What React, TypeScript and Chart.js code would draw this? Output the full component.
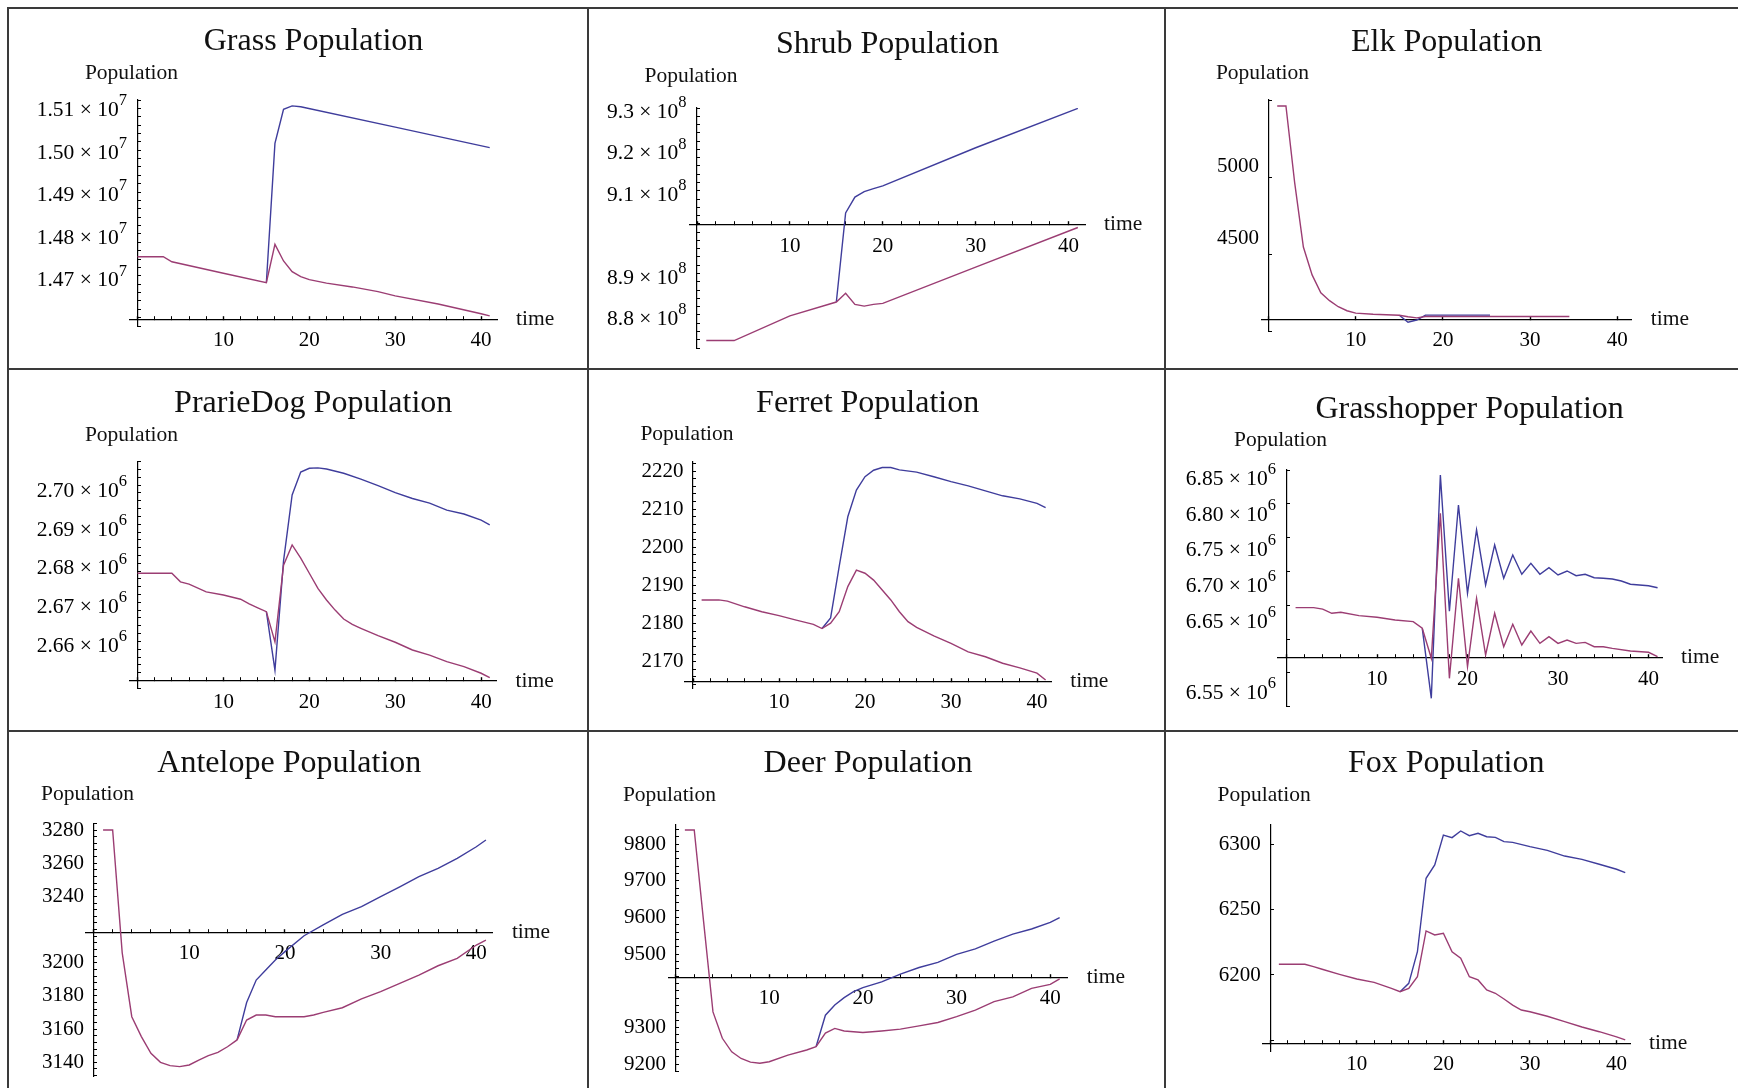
import React, { useEffect, useRef } from 'react';
import { Chart, registerables } from 'chart.js';

Chart.register(...registerables);

type Pt = [number, number];

const FONT = "'Liberation Serif', 'Times New Roman', 'DejaVu Serif', serif";
const BLUE = '#3f3d9c';
const PURPLE = '#9b3d73';

// x-axis tick labels shared by all panels
const timeTickLabels = [10, 20, 30, 40];

// ---------------- Grass ----------------
const grassPurple: Pt[] = [
  [0, 14747000], [3, 14747000], [4, 14735000], [10, 14708000], [15, 14686000], [16, 14776000],
  [17, 14737000], [18, 14712000], [19, 14700000], [20, 14693000], [21, 14689000], [22, 14685000],
  [25, 14676000], [28, 14665000], [30, 14655000], [35, 14636000], [40, 14613000], [41, 14608000],
];
const grassBlue: Pt[] = [
  [15, 14686000], [16, 15013000], [17, 15093000], [18, 15101000], [19, 15099000], [30, 15051000], [41, 15003000],
];
const grassTickLabels = [14700000, 14800000, 14900000, 15000000, 15100000];

// ---------------- Shrub ----------------
const shrubPurple: Pt[] = [
  [1, 873950000], [4, 873950000], [10, 879900000], [15, 883260000], [16, 885390000], [17, 882700000],
  [18, 882280000], [19, 882700000], [20, 882940000], [30, 891660000], [41, 901250000],
];
const shrubBlue: Pt[] = [
  [15, 883260000], [16, 904750000], [17, 908600000], [18, 909900000], [19, 910640000], [20, 911300000],
  [30, 920500000], [41, 930000000],
];
const shrubTickLabels = [880000000, 890000000, 910000000, 920000000, 930000000];

// ---------------- Elk ----------------
const elkPurple: Pt[] = [
  [1, 5425], [2, 5425], [3, 4890], [4, 4440], [5, 4245], [6, 4120], [7, 4065], [8, 4023], [9, 3995],
  [10, 3978], [12, 3970], [15, 3963], [16, 3953], [17, 3945], [18, 3955], [34.5, 3955],
];
const elkBlue: Pt[] = [[15, 3963], [16, 3915], [17, 3930], [18, 3964], [25.4, 3964]];
const elkTickLabels = [4500, 5000];

// ---------------- Prairie dog ----------------
const prairiePurple: Pt[] = [
  [0, 2677800], [4, 2677800], [5, 2675600], [6, 2675000], [8, 2673000], [10, 2672200], [12, 2671100],
  [13, 2669900], [14, 2668900], [15, 2667900], [16, 2660100], [17, 2679900], [18, 2685100], [19, 2681700],
  [20, 2677800], [21, 2673900], [22, 2670900], [23, 2668300], [24, 2666000], [25, 2664600], [26, 2663600],
  [28, 2661700], [30, 2660000], [32, 2658000], [34, 2656700], [36, 2655000], [38, 2653700], [40, 2652000],
  [41, 2650900],
];
const prairieBlue: Pt[] = [
  [15, 2667900], [16, 2652800], [17, 2681000], [18, 2698000], [19, 2703900], [20, 2704900], [21, 2705000],
  [22, 2704700], [24, 2703600], [26, 2702100], [28, 2700400], [30, 2698600], [32, 2697100], [34, 2695900],
  [36, 2694100], [38, 2693100], [40, 2691500], [41, 2690300],
];
const prairieTickLabels = [2660000, 2670000, 2680000, 2690000, 2700000];

// ---------------- Ferret ----------------
const ferretPurple: Pt[] = [
  [1, 2186.2], [3, 2186.2], [4, 2185.9], [6, 2184.4], [8, 2183.1], [10, 2182.1], [12, 2180.9], [14, 2179.8],
  [15, 2178.7], [16, 2180.1], [17, 2183.1], [18, 2189.7], [19, 2194.0], [20, 2193.2], [21, 2191.4],
  [22, 2188.8], [23, 2186.2], [24, 2183.1], [25, 2180.5], [26, 2179.0], [28, 2176.8], [30, 2174.8],
  [32, 2172.6], [34, 2171.3], [36, 2169.6], [38, 2168.4], [40, 2167.0], [41, 2165.2],
];
const ferretBlue: Pt[] = [
  [15, 2178.7], [16, 2181.5], [17, 2195.0], [18, 2208.0], [19, 2215.0], [20, 2218.5], [21, 2220.2],
  [22, 2220.9], [23, 2220.9], [24, 2220.3], [26, 2219.7], [28, 2218.5], [30, 2217.2], [32, 2216.1],
  [34, 2214.8], [36, 2213.5], [38, 2212.7], [40, 2211.5], [41, 2210.4],
];
const ferretTickLabels = [2170, 2180, 2190, 2200, 2210, 2220];

// ---------------- Grasshopper ----------------
const hopperPurple: Pt[] = [
  [1, 6670100], [3, 6670100], [4, 6668000], [5, 6662200], [6, 6663600], [8, 6658900], [10, 6656600],
  [12, 6652800], [14, 6650500], [15, 6641200], [16, 6599200], [17, 6802300], [18, 6571100], [19, 6711300],
  [20, 6587400], [21, 6683200], [22, 6603800], [23, 6662200], [24, 6615400], [25, 6646800], [26, 6617800],
  [27, 6637400], [28, 6620100], [29, 6629500], [30, 6620100], [31, 6624800], [32, 6620100], [33, 6621500],
  [34, 6615400], [35, 6615400], [36, 6613100], [38, 6609400], [40, 6607600], [41, 6601400],
];
const hopperBlue: Pt[] = [
  [15, 6641200], [16, 6543100], [17, 6856000], [18, 6665000], [19, 6814000], [20, 6690200], [21, 6779000],
  [22, 6701900], [23, 6758000], [24, 6711300], [25, 6743900], [26, 6716900], [27, 6732200], [28, 6716900],
  [29, 6726100], [30, 6715900], [31, 6721500], [32, 6714900], [33, 6716900], [34, 6712100], [35, 6711300],
  [36, 6710300], [37, 6707500], [38, 6702900], [40, 6700900], [41, 6698100],
];
const hopperTickLabels = [6550000, 6650000, 6700000, 6750000, 6800000, 6850000];

// ---------------- Antelope ----------------
const antelopePurple: Pt[] = [
  [1, 3280], [2, 3280], [3, 3206], [4, 3167.5], [5, 3155.5], [6, 3145.4], [7, 3140], [8, 3138], [9, 3137.4],
  [10, 3138.4], [11, 3141.4], [12, 3144], [13, 3146], [14, 3149.4], [15, 3153.5], [16, 3165.5], [17, 3168.5],
  [18, 3168.5], [19, 3167.5], [22, 3167.5], [23, 3168.5], [24, 3170.1], [26, 3172.9], [28, 3178.2],
  [30, 3182.6], [32, 3187.6], [34, 3192.6], [36, 3198.2], [38, 3202.7], [40, 3210.7], [41, 3213.7],
];
const antelopeBlue: Pt[] = [
  [15, 3153.5], [16, 3176], [17, 3189.6], [18, 3195.6], [19, 3201.7], [20, 3206.7], [22, 3216.3],
  [24, 3222.8], [26, 3229.2], [28, 3233.8], [30, 3239.8], [32, 3245.8], [34, 3251.9], [36, 3256.9],
  [38, 3262.9], [40, 3269.9], [41, 3274],
];
const antelopeTickLabels = [3140, 3160, 3180, 3200, 3240, 3260, 3280];

// ---------------- Deer ----------------
const deerPurple: Pt[] = [
  [1, 9839], [2, 9839], [3, 9589], [4, 9343], [5, 9271], [6, 9234], [7, 9216], [8, 9206], [9, 9203],
  [10, 9207], [12, 9225], [14, 9239], [15, 9248], [16, 9285], [17, 9298], [18, 9291], [20, 9287],
  [22, 9291], [24, 9296], [26, 9305], [28, 9314], [30, 9330], [32, 9348], [34, 9371], [36, 9384],
  [38, 9407], [40, 9418], [41, 9433],
];
const deerBlue: Pt[] = [
  [15, 9248], [16, 9334], [17, 9362], [18, 9382], [19, 9398], [20, 9409], [22, 9425], [24, 9446],
  [26, 9464], [28, 9478], [30, 9500], [32, 9515], [34, 9536], [36, 9555], [38, 9569], [40, 9587], [41, 9600],
];
const deerTickLabels = [9200, 9300, 9500, 9600, 9700, 9800];

// ---------------- Fox ----------------
const foxPurple: Pt[] = [
  [1, 6208.2], [4, 6208.2], [5, 6206.4], [6, 6204.4], [8, 6200.5], [10, 6196.9], [12, 6194.4], [14, 6189.8],
  [15, 6187.2], [16, 6189.8], [17, 6198.7], [18, 6233.7], [19, 6230.6], [20, 6231.9], [21, 6217.8],
  [22, 6212.8], [23, 6198.7], [24, 6196.2], [25, 6188.5], [26, 6186], [27, 6181.6], [28, 6177],
  [29, 6173.2], [30, 6171.9], [32, 6168.4], [34, 6164.3], [36, 6160.2], [38, 6156.6], [40, 6152.6],
  [41, 6150.3],
];
const foxBlue: Pt[] = [
  [15, 6187.2], [16, 6193.6], [17, 6217.8], [18, 6274], [19, 6284.2], [20, 6307.1], [21, 6305.1],
  [22, 6310.2], [23, 6306.6], [24, 6308.4], [25, 6305.8], [26, 6305.3], [27, 6302], [28, 6301.5],
  [30, 6298.2], [32, 6295.4], [34, 6291], [36, 6288.5], [38, 6284.7], [40, 6280.9], [41, 6278.3],
];
const foxTickLabels = [6200, 6250, 6300];

// ---------------- layout (page pixel coords) ----------------
const COLS: [number, number][] = [[9, 587], [589, 1164], [1166, 1738]];
const ROWS: [number, number][] = [[9, 368], [370, 730], [732, 1088]];

interface PanelDef {
  title: string;
  purple: Pt[];
  blue: Pt[];
  yLabels: number[];
  exp: number; // 0 = plain number labels, otherwise mantissa x 10^exp
  dec: number;
  col: number;
  row: number;
  area: [number, number, number, number];
  xRange: [number, number];
  yRange: [number, number];
  xAxisAt: number;
  yStep: number;
  xStep: number;
  labelOffset: number;
  titleY: number;
  popY: number;
}

const panels: PanelDef[] = [
  {
    title: 'Grass Population', purple: grassPurple, blue: grassBlue, yLabels: grassTickLabels, exp: 7, dec: 2,
    col: 0, row: 0, area: [130, 100, 497, 326], xRange: [-0.873, 41.85], yRange: [14584300, 15114800],
    xAxisAt: 14600000, yStep: 20000, xStep: 2, labelOffset: 4, titleY: 42, popY: 73,
  },
  {
    title: 'Shrub Population', purple: shrubPurple, blue: shrubBlue, yLabels: shrubTickLabels, exp: 8, dec: 1,
    col: 1, row: 0, area: [690, 108, 1085, 348], xRange: [-0.754, 41.77], yRange: [872157000, 930098000],
    xAxisAt: 901890000, yStep: 2000000, xStep: 2, labelOffset: 4, titleY: 45, popY: 76.5,
  },
  {
    title: 'Elk Population', purple: elkPurple, blue: elkBlue, yLabels: elkTickLabels, exp: 0, dec: 0,
    col: 2, row: 0, area: [1261.4, 100, 1631.8, 331.7], xRange: [-0.814, 41.66], yRange: [3848.5, 5466.5],
    xAxisAt: 3935, yStep: 500, xStep: 10, labelOffset: 0, titleY: 42.5, popY: 73,
  },
  {
    title: 'PrarieDog Population', purple: prairiePurple, blue: prairieBlue, yLabels: prairieTickLabels, exp: 6, dec: 2,
    col: 0, row: 1, area: [129.8, 461.7, 496.6, 688.3], xRange: [-0.896, 41.8], yRange: [2648120, 2706590],
    xAxisAt: 2650000, yStep: 2000, xStep: 2, labelOffset: 4, titleY: 404, popY: 435.5,
  },
  {
    title: 'Ferret Population', purple: ferretPurple, blue: ferretBlue, yLabels: ferretTickLabels, exp: 0, dec: 0,
    col: 1, row: 1, area: [684.1, 461.7, 1051.2, 688.3], xRange: [-1.035, 41.65], yRange: [2163.03, 2222.44],
    xAxisAt: 2164.9, yStep: 2, xStep: 2, labelOffset: 0, titleY: 403.5, popY: 434.5,
  },
  {
    title: 'Grasshopper Population', purple: hopperPurple, blue: hopperBlue, yLabels: hopperTickLabels, exp: 6, dec: 2,
    col: 2, row: 1, area: [1277.2, 470, 1662, 706.7], xRange: [-1.028, 41.49], yRange: [6531330, 6863030],
    xAxisAt: 6600000, yStep: 50000, xStep: 2, labelOffset: 0, titleY: 409.5, popY: 440,
  },
  {
    title: 'Antelope Population', purple: antelopePurple, blue: antelopeBlue, yLabels: antelopeTickLabels, exp: 0, dec: 0,
    col: 0, row: 2, area: [85.8, 823.3, 492.9, 1076.7], xRange: [-0.805, 41.73], yRange: [3131.34, 3284.04],
    xAxisAt: 3218.4, yStep: 4, xStep: 2, labelOffset: 0, titleY: 764, popY: 794.5,
  },
  {
    title: 'Deer Population', purple: deerPurple, blue: deerBlue, yLabels: deerTickLabels, exp: 0, dec: 0,
    col: 1, row: 2, area: [668.2, 825, 1067.8, 1071.7], xRange: [-0.779, 41.87], yRange: [9179.9, 9852.6],
    xAxisAt: 9437.4, yStep: 20, xStep: 2, labelOffset: 0, titleY: 763.5, popY: 795,
  },
  {
    title: 'Fox Population', purple: foxPurple, blue: foxBlue, yLabels: foxTickLabels, exp: 0, dec: 0,
    col: 2, row: 2, area: [1262.5, 824.3, 1630, 1051.7], xRange: [-0.889, 41.55], yRange: [6141.3, 6315.3],
    xAxisAt: 6147.8, yStep: 50, xStep: 2, labelOffset: 0, titleY: 763.5, popY: 795,
  },
];

function Panel({ p }: { p: PanelDef }) {
  const ref = useRef<HTMLCanvasElement>(null);
  const [cx0, cx1] = COLS[p.col];
  const [cy0, cy1] = ROWS[p.row];
  const w = cx1 - cx0;
  const h = cy1 - cy0;

  useEffect(() => {
    const canvas = ref.current;
    if (!canvas) return;
    const [L, T, R, B] = p.area;

    const textPlugin = {
      id: 'mmaText',
      afterDraw(chart: any) {
        const ctx = chart.ctx as CanvasRenderingContext2D;
        const a = chart.chartArea;
        const xs = chart.scales.x;
        const ys = chart.scales.y;
        const axisX = xs.getPixelForValue(0);
        ctx.save();
        ctx.fillStyle = '#111';
        ctx.textBaseline = 'middle';
        ctx.textAlign = 'center';
        ctx.font = `32px ${FONT}`;
        ctx.fillText(p.title, (a.left + a.right) / 2, p.titleY - cy0);
        ctx.font = `21.5px ${FONT}`;
        ctx.fillText('Population', axisX - 6, p.popY - cy0);
        ctx.textAlign = 'left';
        ctx.fillText('time', a.right + 19, ys.getPixelForValue(p.xAxisAt));

        // y tick labels, placed through the y scale
        ctx.fillStyle = '#000';
        ctx.textAlign = 'right';
        for (const v of p.yLabels) {
          const y = ys.getPixelForValue(v) + p.labelOffset;
          if (p.exp > 0) {
            const right = axisX - 10.5;
            const mant = (v / Math.pow(10, p.exp)).toFixed(p.dec);
            const sup = String(p.exp);
            ctx.font = `16.5px ${FONT}`;
            const sw = ctx.measureText(sup).width;
            ctx.fillText(sup, right, y - 9.5);
            ctx.font = `21.5px ${FONT}`;
            ctx.fillText(`${mant} \u00d7 10`, right - sw, y);
          } else {
            ctx.font = `21px ${FONT}`;
            ctx.fillText(String(v), axisX - 9.5, y);
          }
        }
        ctx.restore();
      },
    };

    const tickFont = { family: FONT, size: 21, lineHeight: 1 };

    const chart = new Chart(canvas, {
      type: 'scatter',
      data: {
        datasets: [
          {
            data: p.purple.map(([x, y]) => ({ x, y })),
            borderColor: PURPLE,
            backgroundColor: PURPLE,
            showLine: true,
            pointRadius: 0,
            borderWidth: 1.4,
            order: 0,
          },
          {
            data: p.blue.map(([x, y]) => ({ x, y })),
            borderColor: BLUE,
            backgroundColor: BLUE,
            showLine: true,
            pointRadius: 0,
            borderWidth: 1.4,
            order: 1,
          },
        ],
      },
      options: {
        responsive: false,
        animation: false,
        devicePixelRatio: 1,
        events: [],
        layout: { padding: { left: L - cx0, top: T - cy0, right: cx1 - R, bottom: cy1 - B } },
        plugins: { legend: { display: false }, tooltip: { enabled: false }, title: { display: false } },
        scales: {
          x: {
            type: 'linear',
            min: p.xRange[0],
            max: p.xRange[1],
            position: { y: p.xAxisAt },
            border: { display: true, color: '#000', width: 1.2 },
            grid: {
              display: true, drawOnChartArea: false, drawTicks: true, tickLength: -4, tickColor: '#000',
              tickWidth: (c: any) => (c.tick && Math.abs(c.tick.value % 10) < 1e-6 ? 1.4 : 1),
            },
            ticks: {
              stepSize: p.xStep, autoSkip: false, maxRotation: 0, minRotation: 0, includeBounds: false,
              padding: 15, color: '#000', font: tickFont,
              callback: (value: any) => {
                const v = Number(value);
                const hit = timeTickLabels.find((l) => Math.abs(l - v) < 1e-6);
                return hit !== undefined ? String(hit) : '';
              },
            },
          },
          y: {
            type: 'linear',
            min: p.yRange[0],
            max: p.yRange[1],
            position: { x: 0 },
            border: { display: true, color: '#000', width: 1.2 },
            grid: {
              display: true, drawOnChartArea: false, drawTicks: true, tickLength: -4, tickColor: '#000',
              tickWidth: 1,
            },
            ticks: {
              display: false, stepSize: p.yStep, autoSkip: false, includeBounds: false, padding: 0,
              font: tickFont,
            },
          },
        },
      } as any,
      plugins: [textPlugin],
    });
    return () => chart.destroy();
  }, []);

  return (
    <canvas
      ref={ref}
      width={w}
      height={h}
      style={{ position: 'absolute', left: cx0, top: cy0, width: w, height: h }}
    />
  );
}

const LINE = '#3a3a3a';
const borders: { left: number; top: number; width: number; height: number }[] = [
  { left: 7, top: 7, width: 1731, height: 2 },
  { left: 7, top: 7, width: 2, height: 1081 },
  { left: 587, top: 7, width: 2, height: 1081 },
  { left: 1164, top: 7, width: 2, height: 1081 },
  { left: 7, top: 368, width: 1731, height: 2 },
  { left: 7, top: 730, width: 1731, height: 2 },
];

export default function App() {
  useEffect(() => {
    document.documentElement.style.overflow = 'hidden';
    document.body.style.overflow = 'hidden';
  }, []);
  return (
    <div
      style={{
        position: 'fixed', left: 0, top: 0, width: 1738, height: 1088, overflow: 'hidden', background: '#fff',
      }}
    >
      {panels.map((p, i) => (
        <Panel key={i} p={p} />
      ))}
      {borders.map((b, i) => (
        <div key={'b' + i} style={{ position: 'absolute', background: LINE, ...b }} />
      ))}
    </div>
  );
}
